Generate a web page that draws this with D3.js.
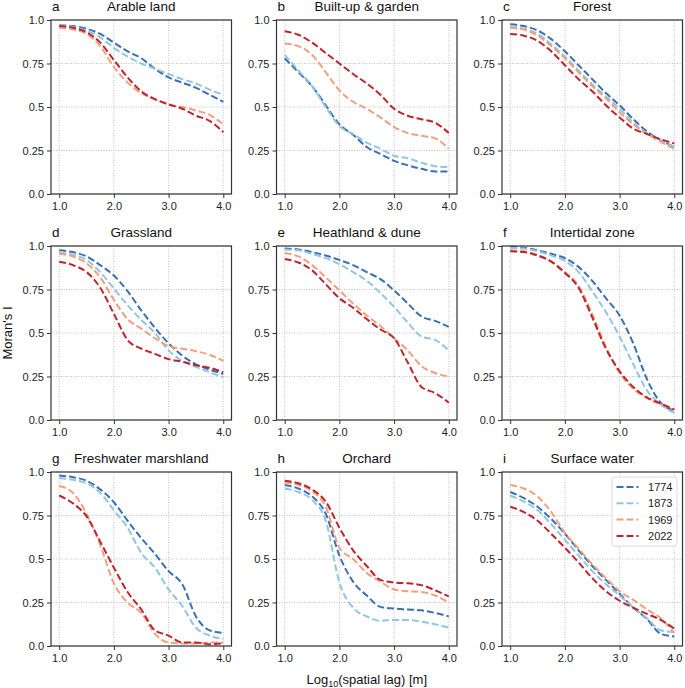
<!DOCTYPE html>
<html lang="en">
<head>
<meta charset="UTF-8">
<title>Moran's I by land use</title>
<script src="https://d3js.org/d3.v7.min.js"></script>
<style>
  body { margin: 0; background: #fff; }
  svg { font-family: "Liberation Sans", Arial, sans-serif; }
  .tick text { font-size: 11px; fill: #222; }
  .grid line { stroke: #b0b0b0; stroke-width: 0.8; stroke-dasharray: 1,1.5; }
</style>
</head>
<body>
<svg id="chart" width="685" height="688"></svg>
<script>
// data
let years = ['1774', '1873', '1969', '2022']
let colors = ['#3a6fb7', '#92c6e0', '#f0a07e', '#c0232e']
let letters = ['a', 'b', 'c', 'd', 'e', 'f', 'g', 'h', 'i']
let titles = ['Arable land', 'Built-up & garden', 'Forest', 'Grassland', 'Heathland & dune',
              'Intertidal zone', 'Freshwater marshland', 'Orchard', 'Surface water']
let lag = [1.0, 1.25, 1.5, 1.75, 2.0, 2.25, 2.5, 2.75, 3.0, 3.25, 3.5, 3.75, 4.0]
let xTicks = [1, 2, 3, 4]
let yTicks = [0, 0.25, 0.5, 0.75, 1.0]
let yTickLabels = ['0.0', '0.25', '0.5', '0.75', '1.0']

// one row per year: 1774, 1873, 1969, 2022
let arable = [
  [0.97, 0.965, 0.95, 0.92, 0.87, 0.82, 0.78, 0.72, 0.67, 0.64, 0.61, 0.57, 0.53],
  [0.97, 0.96, 0.94, 0.90, 0.84, 0.79, 0.75, 0.72, 0.69, 0.66, 0.635, 0.60, 0.57],
  [0.955, 0.945, 0.92, 0.85, 0.73, 0.64, 0.58, 0.545, 0.515, 0.50, 0.48, 0.455, 0.40],
  [0.965, 0.955, 0.93, 0.87, 0.77, 0.67, 0.59, 0.545, 0.515, 0.49, 0.45, 0.42, 0.355]
]
let builtUp = [
  [0.78, 0.70, 0.62, 0.51, 0.40, 0.34, 0.27, 0.23, 0.19, 0.165, 0.145, 0.13, 0.13],
  [0.80, 0.71, 0.62, 0.50, 0.39, 0.345, 0.295, 0.26, 0.22, 0.205, 0.18, 0.16, 0.155],
  [0.865, 0.85, 0.80, 0.70, 0.595, 0.53, 0.49, 0.44, 0.385, 0.35, 0.335, 0.32, 0.26],
  [0.935, 0.915, 0.87, 0.81, 0.75, 0.69, 0.635, 0.57, 0.49, 0.45, 0.43, 0.41, 0.35]
]
let forest = [
  [0.975, 0.965, 0.94, 0.89, 0.82, 0.74, 0.66, 0.58, 0.51, 0.43, 0.36, 0.31, 0.27],
  [0.96, 0.95, 0.92, 0.86, 0.79, 0.71, 0.63, 0.56, 0.49, 0.41, 0.35, 0.31, 0.27],
  [0.955, 0.945, 0.91, 0.85, 0.78, 0.70, 0.62, 0.55, 0.47, 0.40, 0.345, 0.30, 0.26],
  [0.92, 0.91, 0.88, 0.82, 0.74, 0.66, 0.59, 0.51, 0.44, 0.375, 0.345, 0.315, 0.29]
]
let grassland = [
  [0.975, 0.965, 0.94, 0.89, 0.83, 0.74, 0.63, 0.53, 0.44, 0.37, 0.32, 0.29, 0.265],
  [0.96, 0.95, 0.92, 0.85, 0.755, 0.66, 0.575, 0.50, 0.40, 0.34, 0.305, 0.275, 0.245],
  [0.955, 0.94, 0.90, 0.82, 0.69, 0.58, 0.525, 0.47, 0.425, 0.41, 0.395, 0.375, 0.34],
  [0.91, 0.89, 0.85, 0.76, 0.61, 0.46, 0.41, 0.38, 0.35, 0.335, 0.315, 0.30, 0.275]
]
let heathland = [
  [0.985, 0.98, 0.965, 0.945, 0.92, 0.89, 0.85, 0.81, 0.745, 0.67, 0.595, 0.57, 0.535],
  [0.98, 0.975, 0.955, 0.93, 0.895, 0.85, 0.80, 0.73, 0.65, 0.56, 0.48, 0.46, 0.40],
  [0.96, 0.94, 0.89, 0.82, 0.745, 0.67, 0.60, 0.54, 0.47, 0.40, 0.31, 0.27, 0.25],
  [0.925, 0.905, 0.86, 0.78, 0.70, 0.645, 0.58, 0.52, 0.47, 0.33, 0.19, 0.155, 0.10]
]
let intertidal = [
  [0.995, 0.99, 0.975, 0.955, 0.93, 0.88, 0.80, 0.70, 0.60, 0.44, 0.235, 0.10, 0.055],
  [0.99, 0.985, 0.97, 0.945, 0.915, 0.85, 0.74, 0.62, 0.48, 0.32, 0.17, 0.09, 0.04],
  [0.975, 0.97, 0.95, 0.91, 0.85, 0.77, 0.61, 0.42, 0.27, 0.18, 0.125, 0.09, 0.06],
  [0.97, 0.965, 0.945, 0.91, 0.845, 0.76, 0.59, 0.41, 0.28, 0.19, 0.13, 0.095, 0.06]
]
let marshland = [
  [0.98, 0.97, 0.95, 0.90, 0.826, 0.72, 0.62, 0.53, 0.43, 0.355, 0.17, 0.09, 0.075],
  [0.965, 0.955, 0.935, 0.88, 0.78, 0.68, 0.535, 0.45, 0.325, 0.23, 0.105, 0.06, 0.04],
  [0.92, 0.88, 0.76, 0.58, 0.36, 0.25, 0.19, 0.07, 0.02, 0.015, 0.015, 0.02, 0.02],
  [0.865, 0.82, 0.745, 0.60, 0.45, 0.31, 0.21, 0.09, 0.06, 0.02, 0.02, 0.01, 0.015]
]
let orchard = [
  [0.925, 0.905, 0.86, 0.76, 0.52, 0.37, 0.29, 0.225, 0.215, 0.21, 0.205, 0.19, 0.17],
  [0.905, 0.885, 0.84, 0.72, 0.365, 0.22, 0.17, 0.145, 0.15, 0.15, 0.14, 0.125, 0.105],
  [0.94, 0.925, 0.89, 0.80, 0.565, 0.50, 0.42, 0.37, 0.325, 0.315, 0.31, 0.29, 0.25],
  [0.95, 0.935, 0.90, 0.83, 0.68, 0.55, 0.46, 0.38, 0.365, 0.36, 0.35, 0.32, 0.285]
]
let surfaceWater = [
  [0.885, 0.85, 0.80, 0.73, 0.645, 0.55, 0.46, 0.38, 0.30, 0.22, 0.155, 0.07, 0.055],
  [0.865, 0.83, 0.78, 0.70, 0.61, 0.52, 0.43, 0.355, 0.29, 0.22, 0.16, 0.09, 0.08],
  [0.925, 0.905, 0.86, 0.77, 0.65, 0.56, 0.47, 0.39, 0.315, 0.265, 0.21, 0.16, 0.075],
  [0.80, 0.77, 0.72, 0.645, 0.565, 0.48, 0.39, 0.315, 0.26, 0.22, 0.185, 0.15, 0.10]
]
let panels = [arable, builtUp, forest, grassland, heathland, intertidal, marshland, orchard, surfaceWater]

let svg = d3.select('#chart')

let panelW = 180.5
let panelH = 174
let lefts = [51, 276.5, 502]
let tops = [20, 246, 472]

let x = d3.scaleLinear().domain([0.85, 4.15]).range([0, panelW])
let y = d3.scaleLinear().domain([0, 1]).range([panelH, 0])

let line = d3.line()
    .x((d, i) => x(lag[i]))
    .y(d => y(d))
    .curve(d3.curveMonotoneX)

panels.forEach((series, p) => {
    let col = p % 3
    let row = Math.floor(p / 3)
    let g = svg.append('g').attr('transform', `translate(${lefts[col]},${tops[row]})`)

    // grid
    let grid = g.append('g').attr('class', 'grid')
    grid.selectAll('.gx').data(xTicks).enter().append('line')
        .attr('x1', d => x(d)).attr('x2', d => x(d))
        .attr('y1', 0).attr('y2', panelH)
    grid.selectAll('.gy').data(yTicks).enter().append('line')
        .attr('x1', 0).attr('x2', panelW)
        .attr('y1', d => y(d)).attr('y2', d => y(d))

    // axes
    let xAxis = g.append('g')
        .attr('transform', `translate(0,${panelH})`)
        .call(d3.axisBottom(x).tickValues(xTicks).tickFormat(d3.format('.1f')).tickSize(4).tickPadding(4))
    let yAxis = g.append('g')
        .call(d3.axisLeft(y).tickValues(yTicks).tickFormat((d, i) => yTickLabels[i]).tickSize(4).tickPadding(3))
    ;[xAxis, yAxis].forEach(a => {
        a.select('.domain').remove()
        a.selectAll('.tick line').attr('stroke', '#333').attr('stroke-width', 1)
    })

    // curves
    g.selectAll('.series').data(series).enter().append('path')
        .attr('d', line)
        .attr('fill', 'none')
        .attr('stroke', (d, i) => colors[i])
        .attr('stroke-width', 2)
        .attr('stroke-dasharray', '7,3')

    // frame
    g.append('rect')
        .attr('width', panelW).attr('height', panelH)
        .attr('fill', 'none').attr('stroke', '#333').attr('stroke-width', 1.2)

    // titles
    g.append('text')
        .attr('x', panelW / 2).attr('y', -9.5)
        .attr('text-anchor', 'middle')
        .attr('font-size', 13.5).attr('fill', '#111')
        .text(titles[p])
    g.append('text')
        .attr('x', 1).attr('y', -9.5)
        .attr('font-size', 13.5).attr('fill', '#111')
        .text(letters[p])
})

// legend in the last panel
let lg = svg.append('g').attr('transform', `translate(${lefts[2] + 110},${tops[2] + 5})`)
lg.append('rect')
    .attr('width', 65).attr('height', 69).attr('rx', 2.5)
    .attr('fill', 'white').attr('fill-opacity', 0.85)
    .attr('stroke', '#d0d0d0').attr('stroke-width', 0.8)
years.forEach((yr, i) => {
    let yy = 10 + i * 16.3
    lg.append('line')
        .attr('x1', 4.5).attr('x2', 26.5).attr('y1', yy).attr('y2', yy)
        .attr('stroke', colors[i]).attr('stroke-width', 2).attr('stroke-dasharray', '7,3')
    lg.append('text')
        .attr('x', 60.5).attr('y', yy + 4)
        .attr('text-anchor', 'end')
        .attr('font-size', 11).attr('fill', '#222')
        .text(yr)
})

// axis titles
svg.append('text')
    .attr('transform', `translate(12,${tops[1] + panelH / 2}) rotate(-90)`)
    .attr('text-anchor', 'middle')
    .attr('font-size', 13).attr('fill', '#111')
    .text("Moran's I")

let xl = svg.append('text')
    .attr('x', lefts[1] + panelW / 2).attr('y', 684)
    .attr('text-anchor', 'middle')
    .attr('font-size', 13).attr('fill', '#111')
xl.append('tspan').text('Log')
xl.append('tspan').attr('font-size', 9).attr('dy', 3).text('10')
xl.append('tspan').attr('dy', -3).text('(spatial lag) [m]')
</script>
</body>
</html>
